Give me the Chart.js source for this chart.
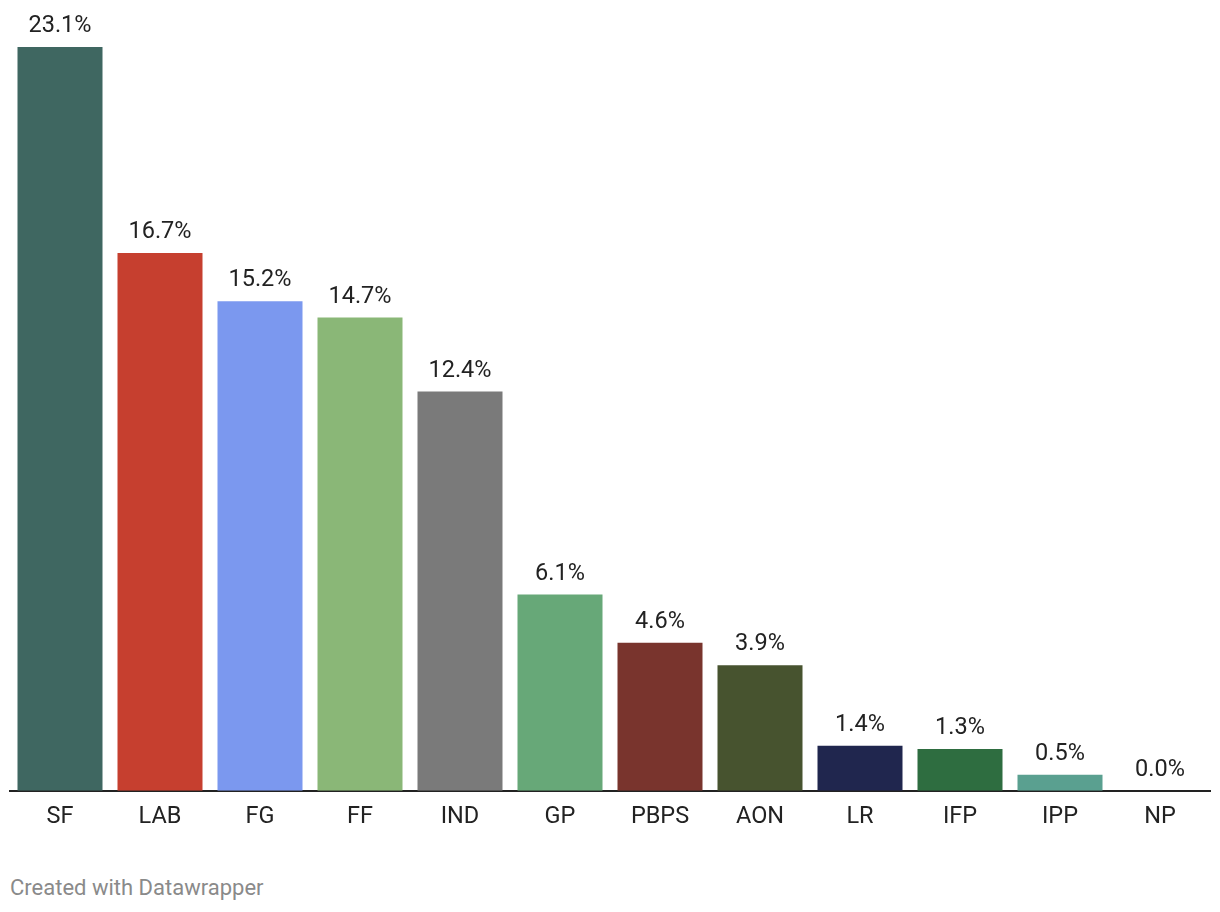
<!DOCTYPE html>
<html>
<head>
<meta charset="utf-8">
<script src="https://cdn.jsdelivr.net/npm/chart.js@4"></script>
<style>
  body { margin: 0; background: #fff; }
  #wrap { position: relative; width: 1220px; height: 912px; }
  #footer { position: absolute; left: 10px; top: 875px; font: 22px Roboto, sans-serif; color: #8a8a8a; }
</style>
</head>
<body>
<div id="wrap">
  <canvas id="myChart" width="1220" height="860"></canvas>
  <div id="footer">Created with Datawrapper</div>
</div>
<script>
// partidos y porcentaje de voto
let partidos = ['SF', 'LAB', 'FG', 'FF', 'IND', 'GP', 'PBPS', 'AON', 'LR', 'IFP', 'IPP', 'NP'];
let votos = [23.1, 16.7, 15.2, 14.7, 12.4, 6.1, 4.6, 3.9, 1.4, 1.3, 0.5, 0.0];
let colores = ['#3f6761', '#c63f2f', '#7b98ef', '#8ab777', '#7a7a7a', '#67a878',
               '#79342d', '#47532f', '#20264e', '#2e6d40', '#5aa090', '#cccccc'];

// etiquetas encima de cada barra
const etiquetas = {
  id: 'etiquetas',
  afterDatasetsDraw(chart) {
    const ctx = chart.ctx;
    const meta = chart.getDatasetMeta(0);
    ctx.save();
    ctx.font = '23.5px Roboto, sans-serif';
    ctx.fillStyle = '#222';
    ctx.textAlign = 'center';
    ctx.textBaseline = 'bottom';
    meta.data.forEach((bar, i) => {
      ctx.fillText(votos[i].toFixed(1) + '%', bar.x, bar.y - 9);
    });
    ctx.restore();
  }
};

const ctx = document.getElementById('myChart');

const myChart = new Chart(ctx, {
  type: 'bar',
  data: {
    labels: partidos,
    datasets: [{
      data: votos,
      backgroundColor: colores,
      borderWidth: 0,
      barPercentage: 0.85,
      categoryPercentage: 1
    }]
  },
  options: {
    responsive: false,
    animation: false,
    layout: { padding: { top: 47, left: 10, right: 10, bottom: 17 } },
    plugins: { legend: { display: false }, tooltip: { enabled: false } },
    scales: {
      x: {
        grid: { display: false, drawTicks: false },
        border: { display: true, color: '#222', width: 2 },
        ticks: { color: '#222', padding: 12, font: { family: 'Roboto', size: 23.5 } }
      },
      y: {
        display: false,
        min: 0,
        max: 23.1
      }
    }
  },
  plugins: [etiquetas]
});
</script>
</body>
</html>
